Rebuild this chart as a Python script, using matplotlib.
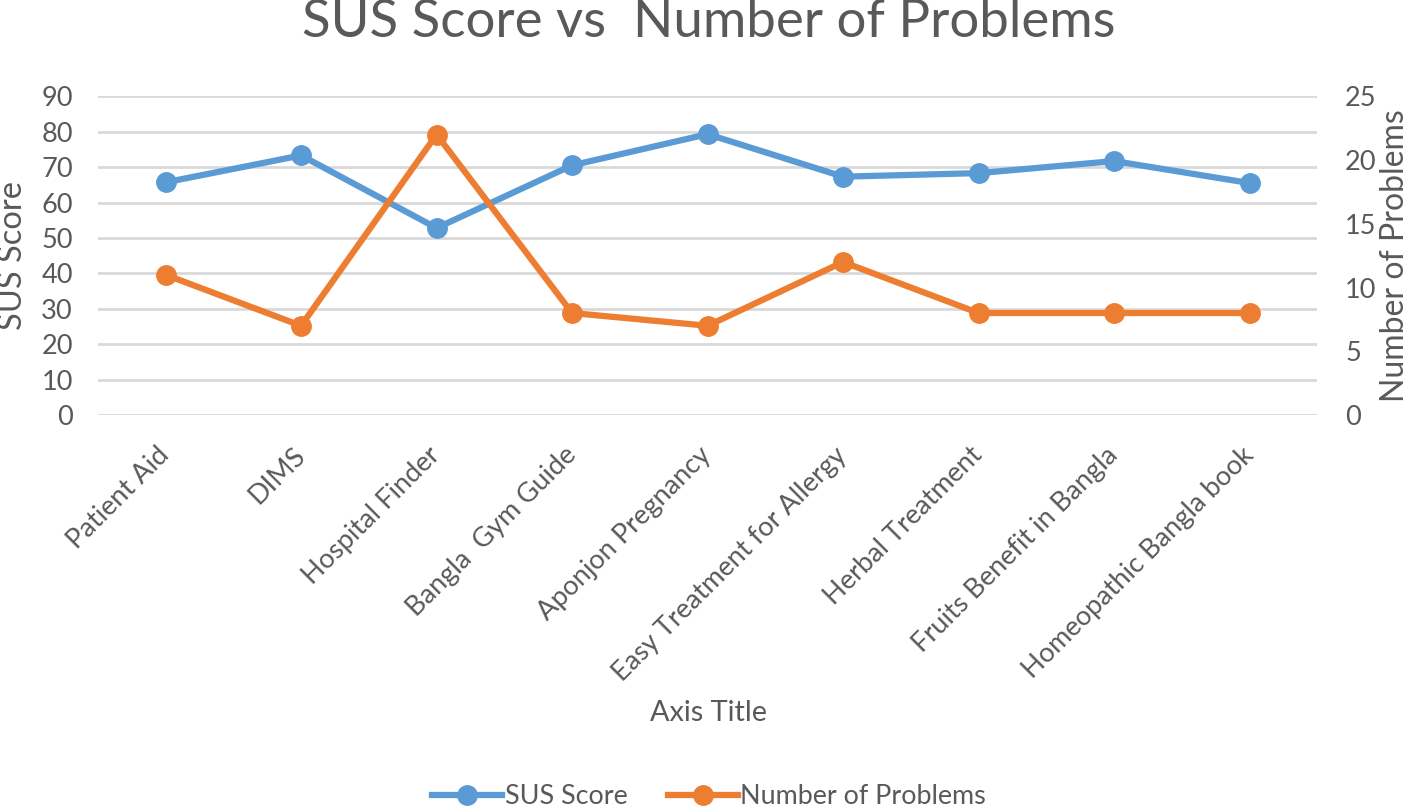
import matplotlib
matplotlib.use("Agg")
import matplotlib.pyplot as plt
from matplotlib.lines import Line2D

plt.rcParams['font.family'] = ['Lato', 'DejaVu Sans']

categories = ["Patient Aid", "DIMS", "Hospital Finder", "Bangla  Gym Guide",
              "Aponjon Pregnancy", "Easy Treatment for Allergy", "Herbal Treatment",
              "Fruits Benefit in Bangla", "Homeopathic Bangla book"]
sus_score = [65.7, 73.3, 52.8, 70.5, 79.3, 67.3, 68.3, 71.7, 65.5]
num_problems = [11, 7, 22, 8, 7, 12, 8, 8, 8]
left_ticks = [0, 10, 20, 30, 40, 50, 60, 70, 80, 90]
right_ticks = [0, 5, 10, 15, 20, 25]

BLUE = "#5B9BD5"
ORANGE = "#ED7D31"
GRAY = "#595959"
GRID = "#D9D9D9"

fig = plt.figure(figsize=(14.18, 8.09), dpi=100)
ax = fig.add_axes([0.069, 0.487, 0.860, 0.394])
ax2 = ax.twinx()

x = list(range(len(categories)))
ax.plot(x, sus_score, color=BLUE, lw=4.5, marker='o', ms=14, zorder=3)
ax2.plot(x, num_problems, color=ORANGE, lw=4.5, marker='o', ms=14, zorder=3)

ax.set_xlim(-0.5, len(categories) - 0.5)
ax.set_ylim(0, 90)
ax2.set_ylim(0, 25)
ax.set_yticks(left_ticks)
ax2.set_yticks(right_ticks)
ax.yaxis.grid(True, color=GRID, lw=2)
ax.set_axisbelow(True)

for a in (ax, ax2):
    for s in a.spines.values():
        s.set_visible(False)
    a.tick_params(length=0, labelsize=19.5, labelcolor=GRAY)

ax.set_xticks(x)
ax.set_xticklabels(categories, rotation=45, ha='right', va='center',
                   rotation_mode='anchor', fontsize=19.5, color=GRAY)
ax.tick_params(axis='x', pad=26)
ax.tick_params(axis='y', pad=18)
ax2.tick_params(axis='y', pad=20)

ax.set_ylabel("SUS Score", fontsize=23.5, color=GRAY)
ax2.set_ylabel("Number of Problems", fontsize=23, color=GRAY)
ax.yaxis.set_label_coords(-0.057, 0.5)
ax2.yaxis.set_label_coords(1.051, 0.5)

fig.text(0.5, 0.972, "SUS Score vs  Number of Problems", ha='center', va='center',
         fontsize=38, color=GRAY)
fig.text(0.5, 0.119, "Axis Title", ha='center', va='center', fontsize=20.8, color=GRAY)

handles = [Line2D([], [], color=BLUE, lw=4.5, marker='o', ms=14),
           Line2D([], [], color=ORANGE, lw=4.5, marker='o', ms=14)]
fig.legend(handles, ["SUS Score", "Number of Problems"], loc='center',
           bbox_to_anchor=(0.5, 0.015), ncol=2, frameon=False,
           fontsize=19.4, labelcolor=GRAY, handlelength=2.6, handletextpad=0.08,
           columnspacing=1.5)

fig.savefig("out.png", dpi=100, facecolor='white')
